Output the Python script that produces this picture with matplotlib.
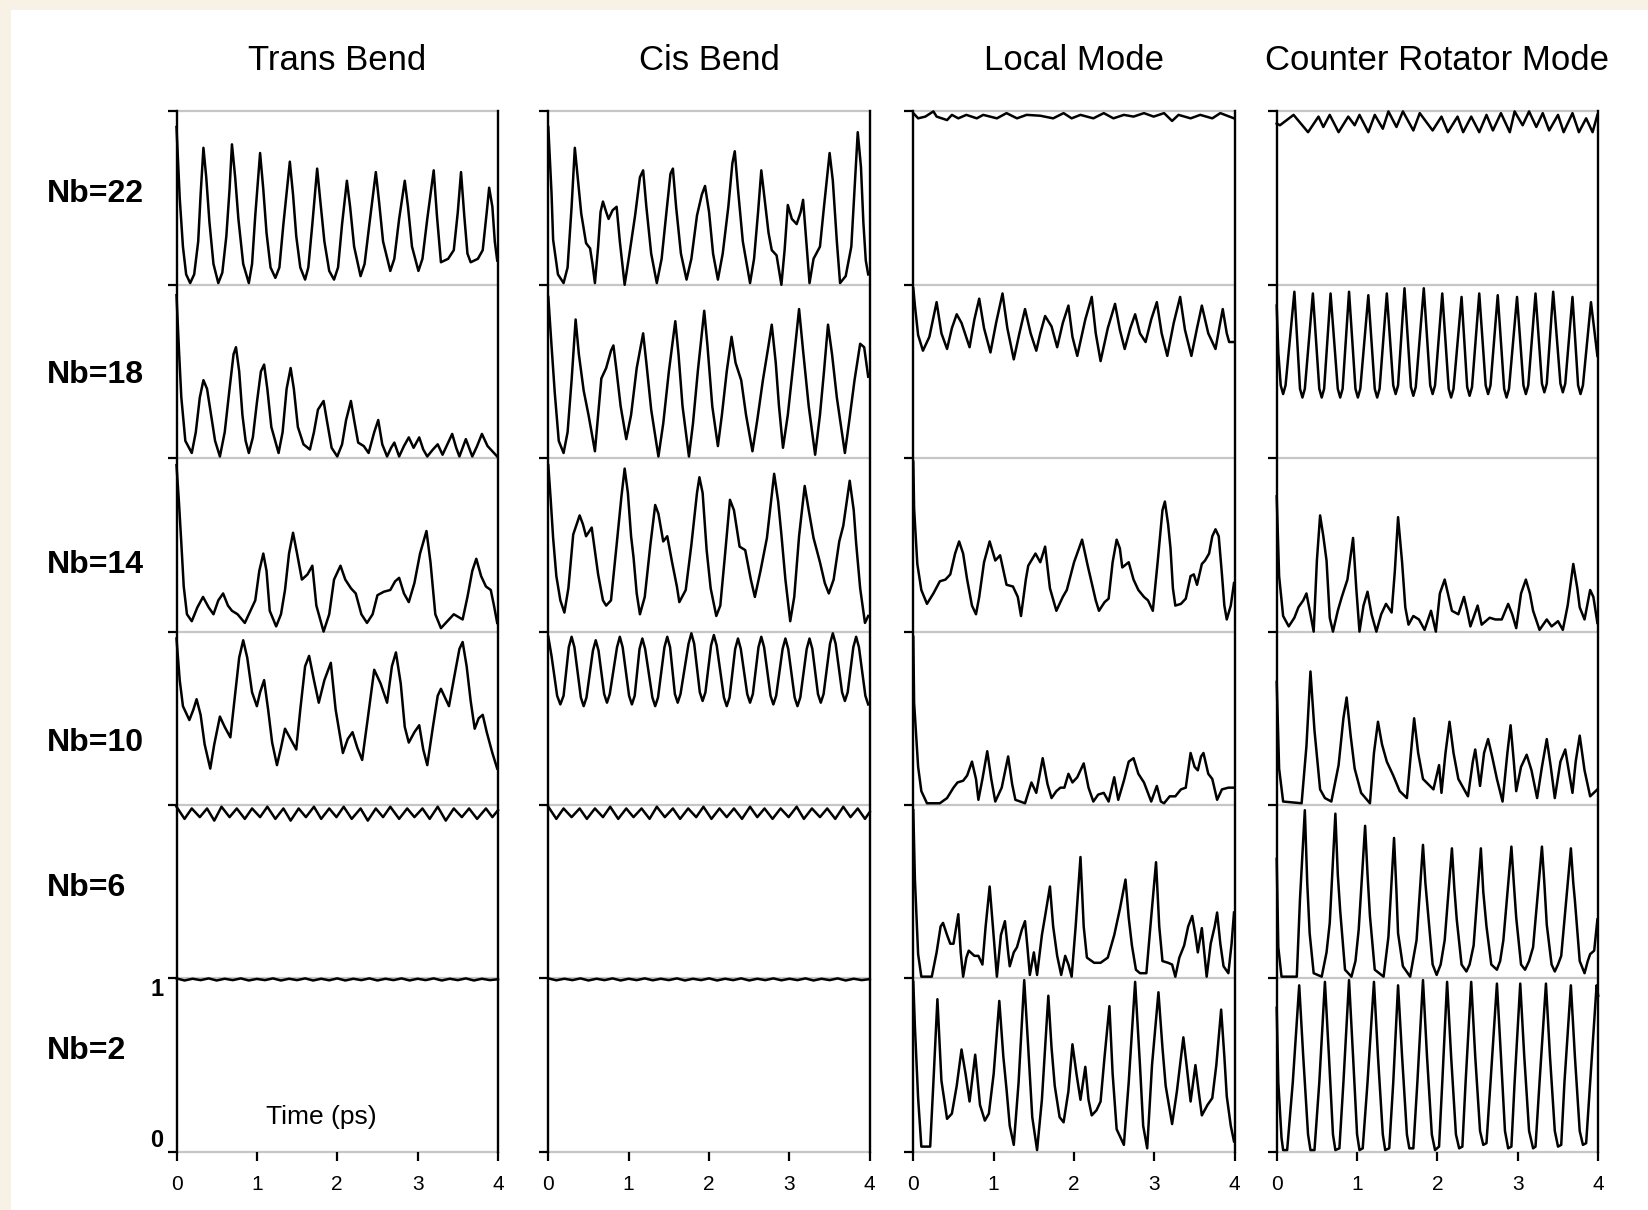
import matplotlib
matplotlib.use("Agg")
import matplotlib.pyplot as plt
from matplotlib.patches import Rectangle

plt.rcParams['font.family'] = ['Liberation Sans', 'DejaVu Sans']

# ---------------------------------------------------------------------------
# Panel layout: column titles, row labels (top to bottom), time ticks
# ---------------------------------------------------------------------------
COLUMN_TITLES = ["Trans Bend", "Cis Bend", "Local Mode", "Counter Rotator Mode"]
ROW_LABELS = ["Nb=22", "Nb=18", "Nb=14", "Nb=10", "Nb=6", "Nb=2"]
TIME_TICKS = [0, 1, 2, 3, 4]
TIME_LABEL = "Time (ps)"

# ---------------------------------------------------------------------------
# Survival probability vs time (ps); each trace is (time, probability) with
# probability in [0, 1] inside its own row band.
# ---------------------------------------------------------------------------
TRANS_22 = [(0.00,0.91),(0.04,0.50),(0.08,0.22),(0.12,0.06),(0.17,0.01),(0.22,0.06),(0.27,0.25),(0.30,0.52),
            (0.335,0.79),(0.37,0.62),(0.41,0.36),(0.46,0.12),(0.52,0.01),(0.57,0.07),(0.62,0.28),(0.66,0.55),
            (0.69,0.81),(0.73,0.62),(0.77,0.38),(0.83,0.12),(0.90,0.01),(0.94,0.12),(0.98,0.40),(1.04,0.76),
            (1.08,0.55),(1.12,0.30),(1.17,0.10),(1.23,0.04),(1.28,0.10),(1.33,0.35),(1.41,0.71),(1.45,0.52),
            (1.49,0.28),(1.54,0.10),(1.60,0.03),(1.64,0.10),(1.69,0.35),(1.75,0.67),(1.79,0.48),(1.84,0.25),
            (1.90,0.08),(1.96,0.03),(2.01,0.10),(2.06,0.35),(2.12,0.60),(2.16,0.45),(2.21,0.22),(2.29,0.05),
            (2.34,0.12),(2.40,0.35),(2.48,0.65),(2.52,0.48),(2.57,0.25),(2.66,0.08),(2.71,0.15),(2.77,0.38),
            (2.84,0.60),(2.88,0.45),(2.93,0.22),(3.01,0.08),(3.06,0.15),(3.12,0.38),(3.20,0.66),(3.24,0.40),
            (3.29,0.13),(3.38,0.15),(3.45,0.20),(3.50,0.42),(3.54,0.65),(3.58,0.40),(3.62,0.18),(3.66,0.13),
            (3.75,0.15),(3.81,0.20),(3.86,0.42),(3.89,0.56),(3.93,0.45),(3.96,0.25),(3.99,0.14)]
TRANS_18 = [(0.00,0.94),(0.03,0.63),(0.06,0.35),(0.11,0.10),(0.19,0.03),(0.24,0.15),(0.29,0.35),(0.335,0.45),
            (0.38,0.40),(0.43,0.25),(0.48,0.10),(0.54,0.01),(0.60,0.15),(0.66,0.40),(0.71,0.60),(0.74,0.64),
            (0.78,0.50),(0.82,0.25),(0.86,0.10),(0.90,0.03),(0.95,0.12),(1.00,0.32),(1.05,0.50),(1.09,0.54),
            (1.13,0.40),(1.18,0.18),(1.27,0.03),(1.32,0.15),(1.37,0.40),(1.42,0.52),(1.46,0.40),(1.51,0.18),
            (1.58,0.08),(1.66,0.05),(1.71,0.15),(1.76,0.28),(1.83,0.33),(1.87,0.22),(1.93,0.06),(2.00,0.01),
            (2.06,0.08),(2.11,0.22),(2.17,0.33),(2.21,0.22),(2.26,0.09),(2.33,0.07),(2.39,0.03),(2.46,0.15),
            (2.51,0.22),(2.56,0.08),(2.62,0.01),(2.67,0.06),(2.71,0.09),(2.77,0.01),(2.83,0.07),(2.89,0.12),
            (2.95,0.06),(3.02,0.12),(3.07,0.05),(3.12,0.01),(3.19,0.05),(3.25,0.08),(3.31,0.02),(3.37,0.08),
            (3.43,0.14),(3.48,0.06),(3.52,0.01),(3.60,0.11),(3.68,0.01),(3.74,0.07),(3.80,0.14),(3.87,0.07),
            (3.99,0.01)]
TRANS_14 = [(0.00,0.96),(0.03,0.75),(0.06,0.51),(0.09,0.26),(0.13,0.10),(0.19,0.06),(0.26,0.14),(0.33,0.20),
            (0.40,0.14),(0.46,0.10),(0.52,0.18),(0.58,0.22),(0.64,0.15),(0.69,0.12),(0.76,0.10),(0.85,0.05),
            (0.92,0.12),(0.98,0.18),(1.03,0.35),(1.08,0.45),(1.12,0.35),(1.16,0.12),(1.24,0.03),(1.30,0.10),
            (1.35,0.24),(1.40,0.45),(1.45,0.57),(1.50,0.45),(1.56,0.30),(1.63,0.33),(1.69,0.38),(1.74,0.15),
            (1.83,0.00),(1.90,0.10),(1.96,0.30),(2.04,0.38),(2.10,0.30),(2.17,0.25),(2.23,0.22),(2.30,0.10),
            (2.37,0.05),(2.44,0.10),(2.50,0.21),(2.58,0.23),(2.66,0.24),(2.72,0.29),(2.77,0.31),(2.83,0.22),
            (2.89,0.17),(2.96,0.28),(3.03,0.45),(3.11,0.58),(3.16,0.40),(3.22,0.10),(3.29,0.02),(3.37,0.06),
            (3.45,0.10),(3.56,0.07),(3.62,0.20),(3.68,0.35),(3.73,0.42),(3.79,0.32),(3.85,0.26),(3.91,0.24),
            (3.95,0.15),(3.99,0.05)]
TRANS_10 = [(0.00,0.96),(0.04,0.72),(0.08,0.57),(0.16,0.49),(0.21,0.55),(0.25,0.61),(0.30,0.52),(0.35,0.35),
            (0.42,0.21),(0.47,0.35),(0.54,0.51),(0.60,0.45),(0.67,0.39),(0.72,0.60),(0.78,0.85),(0.83,0.95),
            (0.88,0.85),(0.94,0.65),(1.00,0.57),(1.04,0.65),(1.09,0.72),(1.14,0.55),(1.19,0.36),(1.25,0.23),
            (1.30,0.33),(1.35,0.44),(1.42,0.38),(1.49,0.32),(1.54,0.55),(1.60,0.80),(1.65,0.86),(1.71,0.72),
            (1.77,0.59),(1.84,0.72),(1.92,0.82),(1.98,0.55),(2.07,0.30),(2.13,0.38),(2.19,0.42),(2.25,0.33),
            (2.31,0.26),(2.38,0.50),(2.46,0.78),(2.54,0.70),(2.62,0.59),(2.68,0.80),(2.73,0.88),(2.79,0.70),
            (2.84,0.45),(2.89,0.36),(2.96,0.42),(3.02,0.46),(3.07,0.32),(3.12,0.23),(3.19,0.45),(3.25,0.63),
            (3.29,0.67),(3.34,0.62),(3.39,0.57),(3.46,0.75),(3.52,0.90),(3.56,0.94),(3.61,0.80),(3.66,0.60),
            (3.71,0.44),(3.76,0.50),(3.81,0.52),(3.86,0.42),(3.93,0.30),(3.99,0.21)]
TRANS_6 = [(0.00,0.99),(0.10,0.92),(0.19,0.98),(0.29,0.93),(0.38,0.98),(0.47,0.91),(0.56,0.99),(0.66,0.93),
           (0.75,0.98),(0.85,0.92),(0.94,0.98),(1.04,0.93),(1.13,0.99),(1.23,0.92),(1.33,0.98),(1.42,0.91),
           (1.52,0.98),(1.61,0.93),(1.71,0.99),(1.80,0.92),(1.90,0.98),(1.99,0.93),(2.08,0.99),(2.18,0.92),
           (2.29,0.98),(2.38,0.91),(2.48,0.98),(2.57,0.93),(2.66,0.99),(2.77,0.92),(2.87,0.98),(2.96,0.93),
           (3.06,0.98),(3.15,0.92),(3.25,0.99),(3.35,0.91),(3.45,0.98),(3.55,0.93),(3.64,0.98),(3.74,0.92),
           (3.85,0.98),(3.93,0.93),(4.00,0.97)]
TRANS_2 = [(0.00,1.00),(0.10,0.988),(0.20,0.998),(0.30,0.990),(0.40,1.00),(0.50,0.988),(0.60,0.998),
           (0.70,0.990),(0.80,1.00),(0.90,0.988),(1.00,0.997),(1.10,0.990),(1.20,1.00),(1.30,0.988),
           (1.40,0.998),(1.50,0.990),(1.60,1.00),(1.70,0.988),(1.80,0.998),(1.90,0.989),(2.00,1.00),
           (2.10,0.988),(2.20,0.998),(2.30,0.990),(2.40,1.00),(2.50,0.988),(2.60,0.998),(2.70,0.990),
           (2.80,1.00),(2.90,0.988),(3.00,0.998),(3.10,0.990),(3.20,1.00),(3.30,0.988),(3.40,0.998),
           (3.50,0.990),(3.60,1.00),(3.70,0.988),(3.80,0.998),(3.90,0.990),(4.00,0.995)]

CIS_22 = [(0.00,0.91),(0.04,0.53),(0.06,0.26),(0.12,0.06),(0.19,0.01),(0.24,0.10),(0.29,0.45),(0.33,0.79),
          (0.37,0.60),(0.41,0.41),(0.47,0.24),(0.52,0.21),(0.55,0.12),(0.58,0.01),(0.62,0.22),(0.65,0.42),
          (0.68,0.48),(0.72,0.42),(0.75,0.38),(0.80,0.43),(0.85,0.45),(0.89,0.25),(0.95,0.00),(1.01,0.18),
          (1.08,0.40),(1.14,0.62),(1.18,0.66),(1.22,0.45),(1.28,0.18),(1.35,0.01),(1.41,0.15),(1.47,0.42),
          (1.52,0.64),(1.55,0.67),(1.59,0.45),(1.65,0.18),(1.72,0.03),(1.78,0.15),(1.85,0.40),(1.91,0.52),
          (1.95,0.57),(2.00,0.42),(2.05,0.18),(2.11,0.03),(2.17,0.18),(2.24,0.45),(2.29,0.70),(2.32,0.77),
          (2.36,0.55),(2.42,0.25),(2.51,0.01),(2.56,0.15),(2.61,0.42),(2.65,0.66),(2.69,0.50),(2.74,0.30),
          (2.78,0.20),(2.84,0.17),(2.90,0.00),(2.94,0.20),(2.98,0.46),(3.03,0.38),(3.09,0.35),(3.14,0.42),
          (3.17,0.49),(3.21,0.25),(3.25,0.01),(3.30,0.15),(3.38,0.22),(3.43,0.45),(3.50,0.76),(3.54,0.60),
          (3.59,0.25),(3.63,0.01),(3.70,0.05),(3.77,0.22),(3.81,0.55),(3.85,0.88),(3.89,0.68),(3.92,0.36),
          (3.95,0.14),(3.98,0.06)]
CIS_18 = [(0.00,0.93),(0.04,0.65),(0.08,0.38),(0.13,0.10),(0.19,0.03),(0.24,0.15),(0.29,0.45),(0.34,0.80),
          (0.38,0.60),(0.44,0.39),(0.50,0.25),(0.55,0.12),(0.58,0.04),(0.62,0.25),(0.66,0.46),(0.72,0.52),
          (0.78,0.62),(0.81,0.65),(0.85,0.50),(0.90,0.30),(0.97,0.11),(1.03,0.25),(1.10,0.52),(1.18,0.72),
          (1.22,0.55),(1.28,0.28),(1.37,0.01),(1.43,0.20),(1.50,0.50),(1.58,0.79),(1.62,0.60),(1.67,0.30),
          (1.75,0.01),(1.80,0.20),(1.86,0.50),(1.94,0.85),(1.98,0.65),(2.04,0.30),(2.11,0.07),(2.16,0.25),
          (2.22,0.50),(2.28,0.70),(2.33,0.55),(2.40,0.45),(2.46,0.25),(2.54,0.04),(2.60,0.22),(2.67,0.45),
          (2.74,0.65),(2.78,0.77),(2.83,0.55),(2.87,0.30),(2.92,0.06),(2.98,0.25),(3.05,0.55),(3.12,0.86),
          (3.17,0.62),(3.24,0.30),(3.32,0.02),(3.38,0.25),(3.43,0.50),(3.48,0.77),(3.53,0.60),(3.59,0.35),
          (3.69,0.03),(3.74,0.20),(3.81,0.45),(3.88,0.66),(3.93,0.64),(3.98,0.47)]
CIS_14 = [(0.00,0.96),(0.03,0.76),(0.06,0.54),(0.10,0.32),(0.15,0.18),(0.20,0.11),(0.25,0.25),(0.31,0.56),
          (0.39,0.67),(0.43,0.62),(0.47,0.55),(0.54,0.60),(0.62,0.33),(0.68,0.18),(0.72,0.15),(0.78,0.18),
          (0.85,0.50),(0.91,0.78),(0.95,0.94),(0.99,0.80),(1.03,0.55),(1.06,0.43),(1.10,0.22),(1.14,0.10),
          (1.20,0.20),(1.27,0.50),(1.33,0.73),(1.37,0.68),(1.43,0.52),(1.48,0.55),(1.54,0.40),(1.60,0.26),
          (1.63,0.17),(1.71,0.24),(1.78,0.50),(1.85,0.80),(1.88,0.89),(1.92,0.80),(1.97,0.47),(2.02,0.25),
          (2.09,0.09),(2.14,0.15),(2.20,0.45),(2.26,0.76),(2.31,0.70),(2.38,0.49),(2.45,0.47),(2.52,0.30),
          (2.57,0.20),(2.64,0.35),(2.72,0.54),(2.81,0.91),(2.86,0.75),(2.90,0.56),(2.95,0.30),(3.01,0.06),
          (3.06,0.20),(3.12,0.55),(3.19,0.84),(3.24,0.70),(3.30,0.54),(3.38,0.40),(3.44,0.28),(3.49,0.22),
          (3.55,0.30),(3.62,0.52),(3.67,0.61),(3.75,0.87),(3.80,0.70),(3.83,0.51),(3.88,0.25),(3.94,0.05),
          (3.98,0.09)]
CIS_10 = [(0.00,0.97),(0.04,0.86),(0.11,0.63),(0.15,0.58),(0.19,0.63),(0.255,0.91),(0.29,0.97),(0.325,0.91),
          (0.405,0.62),(0.44,0.57),(0.475,0.62),(0.555,0.89),(0.59,0.95),(0.625,0.89),(0.695,0.64),(0.73,0.59),
          (0.765,0.64),(0.855,0.91),(0.89,0.97),(0.925,0.91),(1.005,0.63),(1.04,0.58),(1.075,0.63),(1.135,0.90),
          (1.17,0.96),(1.205,0.90),(1.295,0.62),(1.33,0.57),(1.365,0.62),(1.445,0.91),(1.48,0.97),(1.515,0.91),
          (1.575,0.64),(1.61,0.59),(1.645,0.64),(1.745,0.93),(1.78,0.99),(1.815,0.93),(1.885,0.65),(1.92,0.60),
          (1.955,0.65),(2.025,0.92),(2.06,0.98),(2.095,0.92),(2.185,0.62),(2.22,0.57),(2.255,0.62),(2.325,0.90),
          (2.36,0.96),(2.395,0.90),(2.475,0.64),(2.51,0.59),(2.545,0.64),(2.615,0.91),(2.65,0.97),(2.685,0.91),
          (2.765,0.63),(2.80,0.58),(2.835,0.63),(2.915,0.90),(2.95,0.96),(2.985,0.90),(3.065,0.62),(3.10,0.57),
          (3.135,0.62),(3.215,0.90),(3.25,0.96),(3.285,0.90),(3.355,0.64),(3.39,0.59),(3.425,0.64),(3.505,0.93),
          (3.54,0.99),(3.575,0.93),(3.655,0.65),(3.69,0.60),(3.725,0.65),(3.795,0.91),(3.83,0.97),(3.865,0.91),
          (3.945,0.63),(3.98,0.58)]
CIS_6 = [(0.00,0.99),(0.10,0.92),(0.19,0.98),(0.29,0.93),(0.39,0.98),(0.48,0.92),(0.58,0.98),(0.68,0.93),
         (0.77,0.99),(0.87,0.92),(0.97,0.98),(1.06,0.93),(1.16,0.98),(1.26,0.92),(1.35,0.99),(1.45,0.93),
         (1.55,0.98),(1.64,0.92),(1.74,0.98),(1.84,0.93),(1.93,0.99),(2.03,0.92),(2.13,0.98),(2.22,0.93),
         (2.31,0.98),(2.41,0.92),(2.51,0.99),(2.60,0.93),(2.69,0.98),(2.79,0.92),(2.89,0.98),(2.99,0.93),
         (3.09,0.99),(3.18,0.92),(3.28,0.98),(3.38,0.93),(3.47,0.98),(3.57,0.92),(3.67,0.99),(3.76,0.93),
         (3.85,0.98),(3.94,0.92),(4.00,0.96)]
CIS_2 = [(0.00,1.00),(0.10,0.989),(0.20,0.998),(0.30,0.990),(0.40,1.00),(0.50,0.988),(0.60,0.998),
         (0.70,0.990),(0.80,1.00),(0.90,0.988),(1.00,0.998),(1.10,0.990),(1.20,1.00),(1.30,0.989),
         (1.40,0.998),(1.50,0.990),(1.60,1.00),(1.70,0.988),(1.80,0.998),(1.90,0.990),(2.00,1.00),
         (2.10,0.988),(2.20,0.998),(2.30,0.990),(2.40,1.00),(2.50,0.988),(2.60,0.998),(2.70,0.990),
         (2.80,1.00),(2.90,0.989),(3.00,0.998),(3.10,0.990),(3.20,1.00),(3.30,0.988),(3.40,0.998),
         (3.50,0.990),(3.60,1.00),(3.70,0.988),(3.80,0.998),(3.90,0.990),(4.00,0.996)]

LOCAL_22 = [(0.00,0.99),(0.06,0.96),(0.15,0.97),(0.25,1.00),(0.29,0.97),(0.42,0.95),(0.48,0.98),(0.56,0.96),
            (0.66,0.98),(0.79,0.96),(0.87,0.98),(1.04,0.96),(1.16,0.99),(1.29,0.96),(1.41,0.98),(1.58,0.975),
            (1.74,0.96),(1.87,0.99),(1.97,0.96),(2.08,0.98),(2.24,0.96),(2.37,0.99),(2.49,0.96),(2.62,0.98),
            (2.74,0.97),(2.87,0.99),(2.99,0.97),(3.12,0.99),(3.22,0.945),(3.30,0.98),(3.45,0.96),(3.57,0.98),
            (3.72,0.96),(3.82,0.99),(3.99,0.96)]
LOCAL_18 = [(0.00,0.98),(0.02,0.88),(0.06,0.71),(0.12,0.62),(0.20,0.70),(0.29,0.90),(0.35,0.72),(0.42,0.63),
            (0.48,0.75),(0.54,0.83),(0.60,0.78),(0.70,0.64),(0.76,0.80),(0.82,0.92),(0.88,0.75),(0.96,0.61),
            (1.03,0.78),(1.11,0.95),(1.17,0.75),(1.25,0.57),(1.32,0.72),(1.39,0.86),(1.46,0.72),(1.53,0.62),
            (1.58,0.72),(1.64,0.82),(1.72,0.76),(1.79,0.64),(1.86,0.78),(1.93,0.88),(1.98,0.70),(2.04,0.59),
            (2.14,0.80),(2.22,0.93),(2.27,0.72),(2.33,0.56),(2.42,0.75),(2.51,0.89),(2.57,0.74),(2.63,0.63),
            (2.70,0.75),(2.76,0.83),(2.82,0.72),(2.89,0.67),(2.96,0.80),(3.03,0.90),(3.09,0.72),(3.16,0.59),
            (3.24,0.78),(3.32,0.93),(3.38,0.74),(3.46,0.59),(3.53,0.75),(3.59,0.88),(3.67,0.72),(3.76,0.63),
            (3.81,0.76),(3.85,0.86),(3.90,0.72),(3.93,0.67),(3.99,0.67)]
LOCAL_14 = [(0.00,0.98),(0.01,0.71),(0.05,0.39),(0.10,0.24),(0.17,0.16),(0.25,0.22),(0.33,0.29),(0.40,0.30),
            (0.46,0.33),(0.52,0.45),(0.57,0.52),(0.62,0.45),(0.67,0.30),(0.73,0.15),(0.78,0.10),(0.82,0.20),
            (0.88,0.40),(0.95,0.52),(1.02,0.41),(1.08,0.44),(1.16,0.27),(1.24,0.26),(1.30,0.20),(1.34,0.09),
            (1.40,0.30),(1.43,0.38),(1.52,0.45),(1.58,0.40),(1.64,0.49),(1.70,0.25),(1.78,0.12),(1.86,0.20),
            (1.91,0.24),(2.00,0.40),(2.10,0.53),(2.17,0.38),(2.22,0.28),(2.27,0.18),(2.31,0.12),(2.38,0.17),
            (2.43,0.19),(2.48,0.40),(2.53,0.53),(2.57,0.48),(2.60,0.37),(2.68,0.40),(2.74,0.30),(2.80,0.24),
            (2.87,0.20),(2.92,0.18),(2.98,0.12),(3.04,0.40),(3.10,0.70),(3.13,0.75),(3.17,0.62),(3.20,0.48),
            (3.23,0.25),(3.26,0.15),(3.33,0.16),(3.39,0.19),(3.45,0.32),(3.49,0.33),(3.53,0.27),(3.59,0.39),
            (3.63,0.41),(3.68,0.45),(3.72,0.55),(3.76,0.59),(3.80,0.55),(3.84,0.33),(3.87,0.15),(3.90,0.07),
            (3.95,0.15),(3.99,0.28)]
LOCAL_10 = [(0.00,0.97),(0.01,0.59),(0.06,0.22),(0.10,0.08),(0.17,0.01),(0.33,0.01),(0.42,0.04),(0.50,0.10),
            (0.55,0.13),(0.62,0.14),(0.67,0.17),(0.73,0.25),(0.78,0.15),(0.81,0.03),(0.86,0.15),(0.92,0.31),
            (0.97,0.15),(1.02,0.02),(1.10,0.10),(1.18,0.28),(1.23,0.12),(1.27,0.03),(1.39,0.01),(1.47,0.13),
            (1.53,0.07),(1.61,0.27),(1.67,0.12),(1.72,0.04),(1.78,0.08),(1.83,0.10),(1.88,0.10),(1.93,0.18),
            (1.98,0.13),(2.04,0.16),(2.12,0.24),(2.18,0.10),(2.24,0.02),(2.30,0.06),(2.37,0.07),(2.43,0.02),
            (2.50,0.16),(2.55,0.03),(2.62,0.14),(2.68,0.25),(2.74,0.27),(2.80,0.18),(2.87,0.13),(2.96,0.02),
            (3.03,0.11),(3.08,0.02),(3.12,0.01),(3.19,0.05),(3.26,0.05),(3.33,0.09),(3.39,0.10),(3.45,0.30),
            (3.50,0.22),(3.54,0.20),(3.58,0.28),(3.61,0.30),(3.67,0.18),(3.72,0.15),(3.78,0.03),(3.84,0.09),
            (3.92,0.10),(3.99,0.10)]
LOCAL_6 = [(0.00,0.97),(0.02,0.57),(0.06,0.14),(0.10,0.01),(0.23,0.01),(0.29,0.15),(0.34,0.30),(0.37,0.32),
           (0.42,0.25),(0.46,0.20),(0.50,0.20),(0.56,0.37),(0.59,0.15),(0.62,0.01),(0.66,0.12),(0.69,0.16),
           (0.76,0.13),(0.81,0.13),(0.86,0.08),(0.90,0.30),(0.95,0.53),(0.99,0.30),(1.04,0.01),(1.09,0.25),
           (1.14,0.33),(1.18,0.15),(1.20,0.07),(1.25,0.15),(1.29,0.18),(1.35,0.28),(1.39,0.33),(1.42,0.18),
           (1.45,0.02),(1.50,0.15),(1.54,0.02),(1.60,0.25),(1.64,0.36),(1.70,0.53),(1.74,0.30),(1.79,0.13),
           (1.84,0.02),(1.89,0.13),(1.93,0.08),(1.97,0.01),(2.02,0.30),(2.08,0.70),(2.12,0.30),(2.16,0.12),
           (2.25,0.09),(2.33,0.09),(2.42,0.12),(2.50,0.25),(2.57,0.40),(2.64,0.57),(2.68,0.35),(2.72,0.19),
           (2.77,0.05),(2.82,0.03),(2.90,0.03),(2.95,0.30),(3.02,0.67),(3.06,0.30),(3.10,0.10),(3.17,0.09),
           (3.22,0.08),(3.26,0.01),(3.31,0.12),(3.37,0.19),(3.42,0.30),(3.47,0.36),(3.51,0.25),(3.54,0.15),
           (3.59,0.29),(3.62,0.15),(3.65,0.01),(3.70,0.20),(3.75,0.30),(3.78,0.38),(3.82,0.20),(3.86,0.07),
           (3.92,0.03),(3.96,0.20),(3.99,0.38)]
LOCAL_2 = [(0.00,0.98),(0.02,0.72),(0.06,0.31),(0.10,0.03),(0.21,0.03),(0.25,0.40),(0.30,0.88),(0.35,0.41),
           (0.42,0.19),(0.48,0.22),(0.54,0.38),(0.60,0.59),(0.65,0.45),(0.70,0.29),(0.77,0.56),(0.83,0.27),
           (0.89,0.18),(0.94,0.22),(1.00,0.45),(1.07,0.87),(1.12,0.55),(1.16,0.36),(1.20,0.15),(1.25,0.04),
           (1.31,0.40),(1.38,0.99),(1.43,0.60),(1.48,0.20),(1.54,0.01),(1.60,0.30),(1.68,0.90),(1.72,0.60),
           (1.76,0.38),(1.82,0.20),(1.87,0.17),(1.93,0.35),(1.98,0.62),(2.03,0.45),(2.08,0.30),(2.14,0.49),
           (2.18,0.30),(2.22,0.21),(2.28,0.24),(2.33,0.29),(2.38,0.55),(2.44,0.84),(2.48,0.45),(2.53,0.13),
           (2.62,0.04),(2.68,0.40),(2.76,0.98),(2.82,0.50),(2.86,0.15),(2.91,0.02),(2.97,0.50),(3.05,0.92),
           (3.10,0.60),(3.14,0.38),(3.22,0.16),(3.28,0.35),(3.36,0.66),(3.40,0.50),(3.45,0.29),(3.51,0.50),
           (3.55,0.35),(3.59,0.21),(3.66,0.27),(3.72,0.31),(3.77,0.50),(3.83,0.82),(3.87,0.55),(3.90,0.32),
           (3.95,0.15),(3.99,0.06)]

COUNTER_22 = [(0.00,0.93),(0.04,0.92),(0.21,0.98),(0.39,0.88),(0.52,0.97),(0.58,0.91),(0.66,0.98),(0.77,0.88),
              (0.89,0.97),(0.97,0.92),(1.03,0.98),(1.14,0.88),(1.22,0.98),(1.32,0.90),(1.39,1.00),(1.49,0.91),
              (1.57,1.00),(1.70,0.89),(1.78,0.99),(1.94,0.89),(2.05,0.97),(2.13,0.88),(2.25,0.97),(2.32,0.88),
              (2.42,0.97),(2.52,0.88),(2.61,0.98),(2.69,0.89),(2.79,0.99),(2.90,0.88),(2.96,1.00),(3.06,0.92),
              (3.14,1.00),(3.23,0.91),(3.31,0.99),(3.39,0.89),(3.50,0.98),(3.57,0.88),(3.68,0.99),(3.76,0.88),
              (3.85,0.96),(3.93,0.88),(3.99,0.98)]
COUNTER_18 = [(0.00,0.88),(0.02,0.61),(0.05,0.42),(0.08,0.37),(0.11,0.42),(0.22,0.96),(0.29,0.40),(0.32,0.35),
              (0.35,0.40),(0.45,0.95),(0.53,0.40),(0.56,0.35),(0.59,0.40),(0.67,0.95),(0.76,0.40),(0.79,0.35),
              (0.82,0.40),(0.90,0.96),(0.98,0.40),(1.01,0.35),(1.04,0.40),(1.14,0.94),(1.22,0.40),(1.25,0.35),
              (1.28,0.40),(1.37,0.95),(1.45,0.42),(1.48,0.37),(1.51,0.42),(1.59,0.98),(1.67,0.41),(1.70,0.36),
              (1.73,0.41),(1.83,0.98),(1.91,0.42),(1.94,0.37),(1.97,0.42),(2.06,0.95),(2.14,0.40),(2.17,0.35),
              (2.20,0.40),(2.30,0.93),(2.37,0.41),(2.40,0.36),(2.43,0.41),(2.52,0.95),(2.60,0.42),(2.63,0.37),
              (2.66,0.42),(2.75,0.94),(2.83,0.40),(2.86,0.35),(2.89,0.40),(2.99,0.93),(3.07,0.42),(3.10,0.37),
              (3.13,0.42),(3.22,0.95),(3.30,0.43),(3.33,0.38),(3.36,0.43),(3.44,0.96),(3.53,0.43),(3.56,0.38),
              (3.59,0.43),(3.68,0.93),(3.75,0.42),(3.78,0.37),(3.81,0.42),(3.91,0.90),(3.99,0.59)]
COUNTER_14 = [(0.00,0.78),(0.03,0.32),(0.08,0.09),(0.15,0.03),(0.22,0.08),(0.27,0.14),(0.33,0.18),(0.37,0.22),
              (0.42,0.10),(0.46,0.00),(0.50,0.41),(0.54,0.67),(0.58,0.55),(0.62,0.41),(0.66,0.08),(0.70,0.00),
              (0.76,0.12),(0.81,0.20),(0.88,0.30),(0.95,0.54),(0.99,0.25),(1.03,0.00),(1.08,0.15),(1.13,0.23),
              (1.18,0.10),(1.24,0.00),(1.30,0.10),(1.36,0.16),(1.43,0.11),(1.47,0.35),(1.51,0.66),(1.56,0.40),
              (1.60,0.14),(1.64,0.04),(1.70,0.09),(1.77,0.07),(1.84,0.01),(1.92,0.12),(1.98,0.00),(2.03,0.22),
              (2.09,0.30),(2.14,0.20),(2.18,0.12),(2.26,0.10),(2.33,0.20),(2.37,0.12),(2.41,0.03),(2.50,0.15),
              (2.55,0.04),(2.65,0.08),(2.72,0.07),(2.80,0.07),(2.88,0.16),(2.93,0.10),(2.98,0.02),(3.04,0.22),
              (3.10,0.30),(3.15,0.22),(3.19,0.12),(3.27,0.01),(3.36,0.07),(3.42,0.03),(3.50,0.06),(3.56,0.01),
              (3.62,0.15),(3.69,0.39),(3.74,0.25),(3.77,0.14),(3.83,0.07),(3.90,0.24),(3.94,0.20),(3.99,0.05)]
COUNTER_10 = [(0.00,0.71),(0.03,0.21),(0.08,0.02),(0.31,0.01),(0.37,0.34),(0.42,0.77),(0.47,0.43),(0.54,0.09),
              (0.60,0.04),(0.68,0.02),(0.77,0.23),(0.83,0.50),(0.87,0.62),(0.92,0.40),(0.97,0.21),(1.05,0.07),
              (1.16,0.01),(1.21,0.30),(1.26,0.48),(1.31,0.35),(1.37,0.25),(1.45,0.17),(1.53,0.08),(1.62,0.04),
              (1.67,0.30),(1.71,0.50),(1.76,0.30),(1.82,0.15),(1.95,0.09),(2.02,0.23),(2.05,0.07),(2.10,0.30),
              (2.15,0.48),(2.20,0.30),(2.26,0.15),(2.38,0.05),(2.44,0.25),(2.47,0.32),(2.53,0.11),(2.58,0.30),
              (2.63,0.38),(2.68,0.28),(2.74,0.15),(2.81,0.02),(2.87,0.30),(2.91,0.46),(2.95,0.25),(2.98,0.08),
              (3.04,0.22),(3.11,0.29),(3.17,0.20),(3.24,0.04),(3.30,0.22),(3.36,0.38),(3.41,0.22),(3.46,0.04),
              (3.53,0.25),(3.59,0.32),(3.64,0.18),(3.68,0.07),(3.72,0.25),(3.77,0.40),(3.83,0.20),(3.90,0.05),
              (3.99,0.09)]
COUNTER_6 = [(0.00,0.69),(0.02,0.18),(0.06,0.01),(0.25,0.01),(0.29,0.46),(0.35,0.97),(0.38,0.55),(0.41,0.26),
             (0.46,0.03),(0.56,0.01),(0.62,0.15),(0.66,0.32),(0.73,0.95),(0.76,0.60),(0.79,0.39),(0.85,0.05),
             (0.93,0.01),(0.98,0.10),(1.02,0.28),(1.10,0.88),(1.13,0.60),(1.16,0.36),(1.22,0.05),(1.33,0.01),
             (1.39,0.24),(1.46,0.81),(1.49,0.50),(1.51,0.26),(1.57,0.07),(1.66,0.01),(1.74,0.22),(1.82,0.77),
             (1.85,0.55),(1.89,0.34),(1.94,0.08),(1.99,0.02),(2.04,0.08),(2.09,0.22),(2.18,0.75),(2.21,0.52),
             (2.24,0.34),(2.30,0.08),(2.36,0.04),(2.40,0.08),(2.45,0.19),(2.54,0.75),(2.57,0.50),(2.61,0.30),
             (2.67,0.08),(2.74,0.05),(2.78,0.10),(2.82,0.22),(2.92,0.76),(2.95,0.55),(2.98,0.35),(3.04,0.08),
             (3.09,0.05),(3.14,0.10),(3.19,0.18),(3.30,0.76),(3.33,0.55),(3.36,0.31),(3.42,0.08),(3.46,0.04),
             (3.50,0.08),(3.54,0.13),(3.66,0.75),(3.69,0.55),(3.71,0.45),(3.77,0.10),(3.83,0.03),(3.87,0.10),
             (3.90,0.14),(3.95,0.16),(3.99,0.34)]
COUNTER_2 = [(0.00,0.83),(0.02,0.40),(0.06,0.08),(0.08,0.01),(0.13,0.01),(0.20,0.40),(0.28,0.96),(0.33,0.55),
             (0.39,0.10),(0.42,0.01),(0.47,0.01),(0.53,0.40),(0.60,0.98),(0.65,0.55),(0.70,0.10),(0.73,0.01),
             (0.78,0.02),(0.83,0.40),(0.90,0.99),(0.95,0.55),(1.00,0.10),(1.03,0.01),(1.07,0.02),(1.13,0.40),
             (1.21,0.98),(1.26,0.55),(1.32,0.10),(1.35,0.01),(1.40,0.02),(1.45,0.40),(1.51,0.96),(1.56,0.55),
             (1.62,0.10),(1.65,0.02),(1.70,0.02),(1.75,0.40),(1.82,0.99),(1.87,0.55),(1.93,0.10),(1.97,0.01),
             (2.02,0.03),(2.06,0.40),(2.12,0.98),(2.17,0.55),(2.23,0.10),(2.27,0.02),(2.31,0.03),(2.35,0.40),
             (2.42,0.98),(2.47,0.55),(2.53,0.12),(2.57,0.04),(2.61,0.05),(2.66,0.40),(2.74,0.97),(2.79,0.55),
             (2.84,0.12),(2.88,0.02),(2.92,0.03),(2.96,0.40),(3.03,0.97),(3.08,0.55),(3.14,0.12),(3.19,0.02),
             (3.22,0.03),(3.27,0.40),(3.35,0.97),(3.40,0.55),(3.46,0.12),(3.50,0.03),(3.54,0.04),(3.58,0.40),
             (3.66,0.96),(3.71,0.55),(3.77,0.12),(3.81,0.04),(3.85,0.05),(3.90,0.40),(3.98,0.96),(4.00,0.90)]

# traces per column, rows ordered top (Nb=22) to bottom (Nb=2)
PANELS = [
    [TRANS_22, TRANS_18, TRANS_14, TRANS_10, TRANS_6, TRANS_2],
    [CIS_22, CIS_18, CIS_14, CIS_10, CIS_6, CIS_2],
    [LOCAL_22, LOCAL_18, LOCAL_14, LOCAL_10, LOCAL_6, LOCAL_2],
    [COUNTER_22, COUNTER_18, COUNTER_14, COUNTER_10, COUNTER_6, COUNTER_2],
]

# ---------------------------------------------------------------------------
W, H = 1648, 1210
fig = plt.figure(figsize=(W / 100, H / 100), dpi=100)
fig.patch.set_facecolor('#f8f1e6')
fig.add_artist(Rectangle((11 / W, 0), 1, 1 - 10 / H, transform=fig.transFigure,
                         facecolor='white', edgecolor='none', zorder=-10))

col_left_px = [176.5, 548.3, 913.3, 1276.7]
col_width_px = 321.5
top_px, bottom_px = 111.4, 1151.8
n_rows = len(ROW_LABELS)

for c, (title, traces) in enumerate(zip(COLUMN_TITLES, PANELS)):
    ax = fig.add_axes([col_left_px[c] / W, 1 - bottom_px / H,
                       col_width_px / W, (bottom_px - top_px) / H])
    ax.set_xlim(0, 4)
    ax.set_ylim(0, n_rows)
    for k in range(n_rows + 1):
        ax.axhline(k, color='#c6c6c6', lw=1.6, zorder=1, clip_on=False)
    for r, trace in enumerate(traces):
        base = n_rows - 1 - r
        t = [p[0] for p in trace]
        v = [base + p[1] for p in trace]
        ax.plot(t, v, color='black', lw=1.8, zorder=3, clip_on=False)

    for side in ('top', 'bottom'):
        ax.spines[side].set_visible(False)
    for side in ('left', 'right'):
        ax.spines[side].set_color('black')
        ax.spines[side].set_linewidth(1.7)
        ax.spines[side].set_zorder(4)

    ax.set_xticks(TIME_TICKS)
    ax.set_xticklabels([str(x) for x in TIME_TICKS], fontsize=15)
    ax.set_yticks(range(n_rows + 1))
    ax.tick_params(axis='both', direction='out', length=6.5, width=1.6, color='black')
    ax.tick_params(axis='x', pad=10)
    if c == 0:
        ax.set_yticklabels(['0', '1'] + [''] * (n_rows - 1), fontsize=17, fontweight='bold')
        ylabs = ax.get_yticklabels()
        ylabs[0].set_va('bottom')
        ylabs[1].set_va('top')
        ax.tick_params(axis='y', pad=3)
        ax.text(1.8, 0.20, TIME_LABEL, ha='center', va='center', fontsize=19)
    else:
        ax.set_yticklabels([])

    fig.text((col_left_px[c] + col_width_px / 2) / W, 1 - 61 / H, title,
             ha='center', va='center', fontsize=25)

row_label_y_px = [194, 375, 565, 743, 888, 1051]
for lbl, ypx in zip(ROW_LABELS, row_label_y_px):
    fig.text(47 / W, 1 - ypx / H, lbl, ha='left', va='center', fontsize=23, fontweight='bold')

fig.savefig('out.png', dpi=100, facecolor=fig.get_facecolor())
